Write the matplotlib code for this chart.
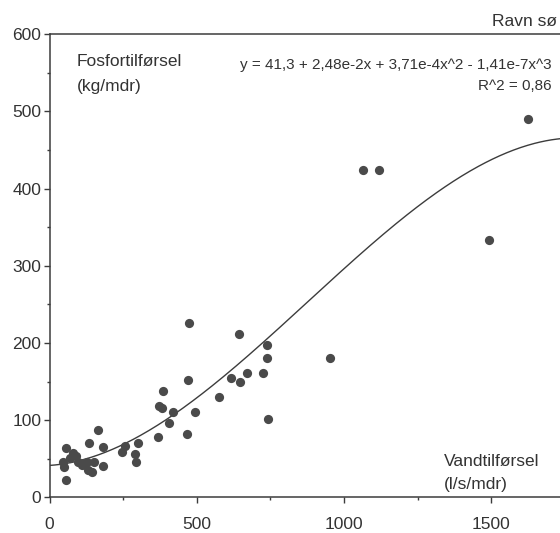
import numpy as np
import matplotlib
matplotlib.use("Agg")
import matplotlib.pyplot as plt

plt.rcParams['font.family'] = ['Liberation Sans', 'DejaVu Sans']

# Data
water = [56, 56, 47, 49, 81, 70, 98, 109, 126, 132, 143, 152, 183, 183, 135, 166, 90, 117,
         246, 257, 291, 293, 300, 367, 384, 373, 381, 405, 420, 467, 469, 495, 473,
         575, 616, 647, 645, 670, 726, 738, 738, 741, 952, 1064, 1120, 1493, 1624]
phos = [63.5, 22.4, 46, 39, 57, 51, 46, 42, 46, 35, 33, 46, 40, 65.6, 70.8, 87, 53, 45,
        59, 67, 56, 46, 71, 78, 138, 118, 116, 96, 110, 82, 152, 110, 226,
        130, 154, 149, 211, 161, 161, 197, 181, 101, 180, 424, 424, 334, 490]

# Regression coefficients shown in the chart
coef = [41.3, 2.48e-2, 3.71e-4, -1.41e-7]

x_ticks = [0, 500, 1000, 1500]
y_ticks = [0, 100, 200, 300, 400, 500, 600]

W, H = 560, 533
fig = plt.figure(figsize=(W / 100, H / 100), dpi=100)
ax_left = 49.5 / W
ax_bottom = (H - 497.3) / H
ax_height = (497.3 - 34.3) / H
xmax = 1900
ax_width = (xmax * 0.2944) / W
ax = fig.add_axes([ax_left, ax_bottom, ax_width, ax_height])

gray = '#3c3c3c'
ax.scatter(water, phos, s=44, color='#4a4a4a', zorder=3, linewidths=0)

xc = np.linspace(0, xmax, 400)
yc = coef[0] + coef[1] * xc + coef[2] * xc**2 + coef[3] * xc**3
ax.plot(xc, yc, color=gray, lw=1.0, zorder=2)

ax.set_xlim(0, xmax)
ax.set_ylim(0, 600)
ax.set_xticks(x_ticks)
ax.set_yticks(y_ticks)
ax.set_xticks([250, 750, 1250, 1750], minor=True)
ax.set_yticks([50, 150, 250, 350, 450, 550], minor=True)
ax.tick_params(axis='both', which='major', direction='out', length=4, width=1,
               color=gray, labelcolor='#333333', labelsize=12.5)
ax.tick_params(axis='both', which='minor', direction='out', length=2, width=1, color=gray)
ax.tick_params(axis='y', which='major', pad=2)
ax.tick_params(axis='x', which='major', pad=10)

for side in ['left', 'bottom', 'top']:
    ax.spines[side].set_color(gray)
    ax.spines[side].set_linewidth(1.1)
ax.spines['right'].set_visible(False)

def px(x, y):
    return x / W, 1 - y / H

tc = '#333333'
fig.text(*px(77, 62), 'Fosfortilførsel', fontsize=12.5, color=tc, va='center', ha='left')
fig.text(*px(77, 86), '(kg/mdr)', fontsize=12.5, color=tc, va='center', ha='left')
fig.text(*px(444, 462), 'Vandtilførsel', fontsize=12.5, color=tc, va='center', ha='left')
fig.text(*px(444, 484), '(l/s/mdr)', fontsize=12.5, color=tc, va='center', ha='left')
fig.text(*px(557, 21), 'Ravn sø', fontsize=12.5, color=tc, va='center', ha='right')
fig.text(*px(552, 65), 'y = 41,3 + 2,48e-2x + 3,71e-4x^2 - 1,41e-7x^3',
         fontsize=11, color=tc, va='center', ha='right')
fig.text(*px(552, 86), 'R^2 = 0,86', fontsize=11, color=tc, va='center', ha='right')

fig.savefig('out.png', dpi=100)
